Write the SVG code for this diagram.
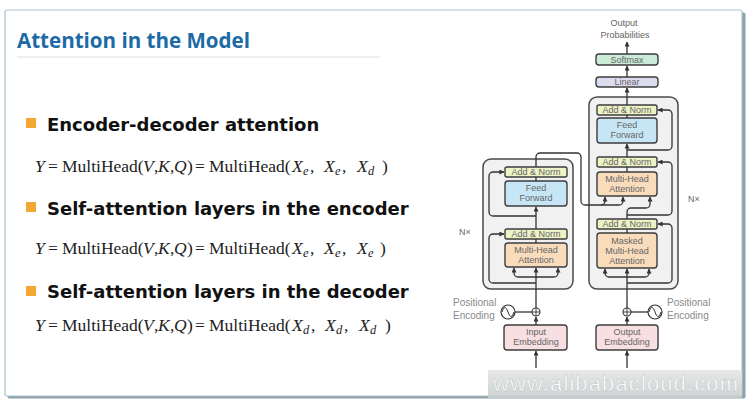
<svg xmlns="http://www.w3.org/2000/svg" width="751" height="407" viewBox="0 0 751 407">
<defs>
<marker id="ah" viewBox="0 0 6 6" refX="5.5" refY="3" markerWidth="5" markerHeight="5" orient="auto" markerUnits="userSpaceOnUse"><path d="M0,0 L6,3 L0,6 z" fill="#333"/></marker>
<linearGradient id="wm" x1="0" y1="0" x2="0" y2="1"><stop offset="0" stop-color="#e4e6e6"/><stop offset="1" stop-color="#c9cdce"/></linearGradient>
</defs>
<style>
.box{stroke:#3d3d3d;stroke-width:1.4}
.an{fill:#eef3c6}.ff{fill:#c7e6f5}.mha{fill:#f8dcbc}.sm{fill:#cdebd9}.lin{fill:#dcdcef}.emb{fill:#f7dfe2}
.stack{fill:#f1f1f1;stroke:#4a4a4a;stroke-width:1.5}
.lbl{font-family:"Liberation Sans",Arial,sans-serif;font-size:9px;fill:#666;text-anchor:middle}
.side{font-family:"Liberation Sans",Arial,sans-serif;font-size:10px;fill:#8a8a8a}
.conn path{fill:none;stroke:#333;stroke-width:1.3}
.bh{font-family:"DejaVu Sans",Verdana,sans-serif;font-weight:bold;font-size:18px;fill:#111}
.f{font-family:"Liberation Serif","Times New Roman",serif;font-size:17.5px;fill:#222}
.i{font-style:italic}
.s{font-style:italic;font-size:12.5px}
.bul{fill:#f3a833}
</style>
<rect width="751" height="407" fill="#ffffff"/>
<rect x="7.5" y="12.5" width="738" height="386" rx="2" fill="#8fa2ab"/>
<rect x="5" y="10" width="737" height="386" rx="2" fill="#ffffff" stroke="#a9c3cc" stroke-width="1.2"/>

<g id="title">
<text x="17" y="48" font-family="'Open Sans','DejaVu Sans',sans-serif" font-weight="bold" font-size="20.5" fill="#1c6aa6" textLength="233" lengthAdjust="spacingAndGlyphs">Attention in the Model</text>
<line x1="17" y1="57" x2="380" y2="57" stroke="#d9dee1" stroke-width="1"/>
</g>

<g id="bullet1">
<rect class="bul" x="26" y="118" width="10" height="10"/>
<text class="bh" x="47" y="131">Encoder-decoder attention</text>
<text class="f" y="172"><tspan x="35" class="i">Y</tspan><tspan x="48">=</tspan><tspan x="62">MultiHead(</tspan><tspan x="143" class="i">V</tspan><tspan x="154">,</tspan><tspan x="158" class="i">K</tspan><tspan x="170">,</tspan><tspan x="174" class="i">Q</tspan><tspan x="187">)</tspan><tspan x="195">=</tspan><tspan x="209">MultiHead(</tspan><tspan x="292" class="i">X</tspan><tspan x="303" y="175" class="s">e</tspan><tspan x="310" y="172">,</tspan><tspan x="324" class="i">X</tspan><tspan x="335" y="175" class="s">e</tspan><tspan x="342" y="172">,</tspan><tspan x="357" class="i">X</tspan><tspan x="368" y="175" class="s">d</tspan><tspan x="382" y="172">)</tspan></text>
</g>

<g id="bullet2">
<rect class="bul" x="26" y="202" width="10" height="10"/>
<text class="bh" x="47" y="215">Self-attention layers in the encoder</text>
<text class="f" y="254"><tspan x="35" class="i">Y</tspan><tspan x="48">=</tspan><tspan x="62">MultiHead(</tspan><tspan x="143" class="i">V</tspan><tspan x="154">,</tspan><tspan x="158" class="i">K</tspan><tspan x="170">,</tspan><tspan x="174" class="i">Q</tspan><tspan x="187">)</tspan><tspan x="195">=</tspan><tspan x="209">MultiHead(</tspan><tspan x="292" class="i">X</tspan><tspan x="303" y="257" class="s">e</tspan><tspan x="310" y="254">,</tspan><tspan x="324" class="i">X</tspan><tspan x="335" y="257" class="s">e</tspan><tspan x="342" y="254">,</tspan><tspan x="357" class="i">X</tspan><tspan x="368" y="257" class="s">e</tspan><tspan x="380" y="254">)</tspan></text>
</g>

<g id="bullet3">
<rect class="bul" x="26" y="286" width="10" height="10"/>
<text class="bh" x="47" y="298">Self-attention layers in the decoder</text>
<text class="f" y="331"><tspan x="35" class="i">Y</tspan><tspan x="48">=</tspan><tspan x="62">MultiHead(</tspan><tspan x="143" class="i">V</tspan><tspan x="154">,</tspan><tspan x="158" class="i">K</tspan><tspan x="170">,</tspan><tspan x="174" class="i">Q</tspan><tspan x="187">)</tspan><tspan x="195">=</tspan><tspan x="209">MultiHead(</tspan><tspan x="292" class="i">X</tspan><tspan x="303" y="334" class="s">d</tspan><tspan x="311" y="331">,</tspan><tspan x="325" class="i">X</tspan><tspan x="336" y="334" class="s">d</tspan><tspan x="344" y="331">,</tspan><tspan x="359" class="i">X</tspan><tspan x="370" y="334" class="s">d</tspan><tspan x="385" y="331">)</tspan></text>
</g>

<!-- Transformer -->
<g id="encoder-stack"><rect class="stack" x="483" y="159" width="90" height="130" rx="8"/><text class="lbl" x="465" y="235" font-size="10">N×</text></g>
<g id="decoder-stack"><rect class="stack" x="589" y="97" width="89" height="192" rx="8"/><text class="lbl" x="694" y="202" font-size="10">N×</text></g>

<g id="output-probabilities"><text class="lbl" x="624" y="26">Output</text><text class="lbl" x="625" y="38">Probabilities</text></g>
<g id="softmax"><rect class="box sm" x="596" y="54" width="62" height="11" rx="3"/><text class="lbl" x="627" y="62.5">Softmax</text></g>
<g id="linear"><rect class="box lin" x="596" y="77" width="62" height="10" rx="3"/><text class="lbl" x="627" y="85.3">Linear</text></g>

<g id="enc-addnorm2"><rect class="box an" x="505" y="167" width="62" height="10" rx="2"/><text class="lbl" x="536" y="175.3">Add &amp; Norm</text></g>
<g id="enc-ff"><rect class="box ff" x="505" y="181" width="62" height="25" rx="3"/><text class="lbl" x="536" y="191">Feed</text><text class="lbl" x="536" y="201">Forward</text></g>
<g id="enc-addnorm1"><rect class="box an" x="505" y="229" width="62" height="10" rx="2"/><text class="lbl" x="536" y="237.3">Add &amp; Norm</text></g>
<g id="enc-mha"><rect class="box mha" x="505" y="243" width="62" height="24" rx="3"/><text class="lbl" x="536" y="253">Multi-Head</text><text class="lbl" x="536" y="263">Attention</text></g>
<g id="input-embedding"><rect class="box emb" x="504" y="325" width="63" height="25" rx="3"/><text class="lbl" x="536" y="335">Input</text><text class="lbl" x="536" y="345">Embedding</text></g>

<g id="dec-addnorm3"><rect class="box an" x="597" y="105" width="60" height="10" rx="2"/><text class="lbl" x="627" y="113.3">Add &amp; Norm</text></g>
<g id="dec-ff"><rect class="box ff" x="597" y="118" width="60" height="25" rx="3"/><text class="lbl" x="627" y="128">Feed</text><text class="lbl" x="627" y="138">Forward</text></g>
<g id="dec-addnorm2"><rect class="box an" x="597" y="157" width="60" height="10" rx="2"/><text class="lbl" x="627" y="165.3">Add &amp; Norm</text></g>
<g id="dec-mha"><rect class="box mha" x="597" y="172" width="60" height="24" rx="3"/><text class="lbl" x="627" y="182">Multi-Head</text><text class="lbl" x="627" y="192">Attention</text></g>
<g id="dec-addnorm1"><rect class="box an" x="597" y="219" width="60" height="10" rx="2"/><text class="lbl" x="627" y="227.3">Add &amp; Norm</text></g>
<g id="dec-masked-mha"><rect class="box mha" x="597" y="233" width="60" height="35" rx="3"/><text class="lbl" x="627" y="244">Masked</text><text class="lbl" x="627" y="254">Multi-Head</text><text class="lbl" x="627" y="264">Attention</text></g>
<g id="output-embedding"><rect class="box emb" x="596" y="325" width="62" height="25" rx="3"/><text class="lbl" x="627" y="335">Output</text><text class="lbl" x="627" y="345">Embedding</text></g>

<g id="enc-pos">
<circle cx="536" cy="312" r="4" fill="#fff" stroke="#333" stroke-width="1.1"/><path d="M532,312 H540 M536,308 V316" stroke="#333" stroke-width="0.9"/>
<circle cx="508" cy="312" r="7" fill="#fff" stroke="#333" stroke-width="1.2"/><path d="M502,312 c2,-6 4,-6 6,0 s4,6 6,0" fill="none" stroke="#333" stroke-width="1"/>
<text class="side" x="453" y="306">Positional</text><text class="side" x="453" y="319">Encoding</text>
</g>
<g id="dec-pos">
<circle cx="627" cy="312" r="4" fill="#fff" stroke="#333" stroke-width="1.1"/><path d="M623,312 H631 M627,308 V316" stroke="#333" stroke-width="0.9"/>
<circle cx="655" cy="312" r="7" fill="#fff" stroke="#333" stroke-width="1.2"/><path d="M649,312 c2,-6 4,-6 6,0 s4,6 6,0" fill="none" stroke="#333" stroke-width="1"/>
<text class="side" x="667" y="306">Positional</text><text class="side" x="667" y="319">Encoding</text>
</g>

<g class="conn" id="connectors">
<path d="M627,77 V66" marker-end="url(#ah)"/>
<path d="M627,54 V42" marker-end="url(#ah)"/>
<path d="M627,105 V88" marker-end="url(#ah)"/>
<path d="M627,118 V115"/>
<path d="M627,157 V144" marker-end="url(#ah)"/>
<path d="M627,150 H668 a4,4 0 0 0 4,-4 V114 a4,4 0 0 0 -4,-4 H658" marker-end="url(#ah)"/>
<path d="M627,172 V167"/>
<path d="M627,215 H668 a4,4 0 0 0 4,-4 V166 a4,4 0 0 0 -4,-4 H658" marker-end="url(#ah)"/>
<path d="M627,219 V212 a4,4 0 0 1 4,-4 H646 a4,4 0 0 0 4,-4 V197" marker-end="url(#ah)"/>
<path d="M536,167 V157 a4,4 0 0 1 4,-4 H577 a4,4 0 0 1 4,4 V201 a4,4 0 0 0 4,4 H619 a4,4 0 0 0 4,-4 V197" marker-end="url(#ah)"/>
<path d="M601,205 a4,4 0 0 0 4,-4 V197" marker-end="url(#ah)"/>
<path d="M627,233 V229"/>
<path d="M627,283 H668 a4,4 0 0 0 4,-4 V228 a4,4 0 0 0 -4,-4 H658" marker-end="url(#ah)"/>
<path d="M627,308 V269" marker-end="url(#ah)"/>
<path d="M627,277 H609 a4,4 0 0 1 -4,-4 V269" marker-end="url(#ah)"/>
<path d="M627,277 H645 a4,4 0 0 0 4,-4 V269" marker-end="url(#ah)"/>
<path d="M536,308 V268" marker-end="url(#ah)"/>
<path d="M536,277 H518 a4,4 0 0 1 -4,-4 V268" marker-end="url(#ah)"/>
<path d="M536,277 H554 a4,4 0 0 0 4,-4 V268" marker-end="url(#ah)"/>
<path d="M536,283 H493 a4,4 0 0 1 -4,-4 V238 a4,4 0 0 1 4,-4 H504" marker-end="url(#ah)"/>
<path d="M536,243 V239"/>
<path d="M536,229 V207" marker-end="url(#ah)"/>
<path d="M536,216 H493 a4,4 0 0 1 -4,-4 V176 a4,4 0 0 1 4,-4 H504" marker-end="url(#ah)"/>
<path d="M536,181 V177"/>
<path d="M536,368 V351" marker-end="url(#ah)"/>
<path d="M536,325 V317" marker-end="url(#ah)"/>
<path d="M515,312 H532"/>
<path d="M627,368 V351" marker-end="url(#ah)"/>
<path d="M627,325 V317" marker-end="url(#ah)"/>
<path d="M631,312 H648"/>
</g>

<g id="watermark">
<rect x="488" y="370" width="254" height="28" fill="url(#wm)" opacity="0.9"/>
<text x="493" y="391" font-family="'Liberation Sans',Arial,sans-serif" font-size="22" fill="#ffffff" stroke="#b9bebf" stroke-width="0.4" textLength="245" lengthAdjust="spacing">www.alibabacloud.com</text>
</g>
</svg>
